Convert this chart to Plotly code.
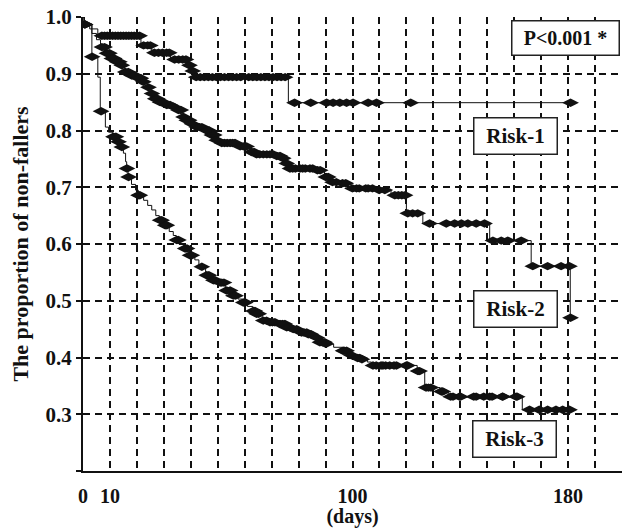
import numpy as np
import plotly.graph_objects as go

# ---------------- data ----------------
x_tick_vals = [0, 10, 100, 180]
y_tick_vals = [0.2, 0.3, 0.4, 0.5, 0.6, 0.7, 0.8, 0.9, 1.0]
y_tick_text = ["", "0.3", "0.4", "0.5", "0.6", "0.7", "0.8", "0.9", "1.0"]

risk1_step_days = [0, 0.3, 2.5, 5.5, 21.5, 25.5, 32.5, 38.8, 40.2, 41.0, 76.2]
risk1_step_surv = [1.0, 0.987, 0.979, 0.967, 0.950, 0.937, 0.925, 0.915, 0.905, 0.894, 0.849]
risk1_end_day = 181.0
risk1_censor_days = [0.6, 7, 8, 9, 10, 11, 12, 13, 14, 15, 16, 17, 18, 19, 20, 21,
                     22.5, 24, 25, 26.5, 28, 29.5, 31, 32, 34, 35.5, 37, 38.2, 39.5,
                     40.7, 42, 43.5, 45, 46.5, 48, 49.5, 51, 52.5, 54, 55.5, 57, 58.5,
                     61.5, 63, 64.5, 66, 67.5, 69, 70.5, 72, 73.5, 75, 78.5, 84.5,
                     90.4, 92.8, 95.3, 97.8, 100.2, 105.8, 108.9, 121.6, 180.9]

risk2_step_days = [0, 0.5, 3.3, 5.0, 6.5, 8.5, 10.3, 12.2, 14.0, 15.3, 17.5, 20.0, 22.0,
                   23.8, 25.2, 26.5, 28.2, 30.5, 33.0, 35.0, 36.8, 38.2, 40.0, 41.8,
                   45.5, 47.3, 49.2, 51.0, 57.8, 62.2, 64.0, 71.5, 74.0, 75.3, 76.5,
                   86.5, 89.6, 92.2, 95.8, 99.5, 109.5, 114.3, 120.0, 126.1, 150.9,
                   166.3, 180.8]
risk2_step_surv = [1.0, 0.987, 0.971, 0.960, 0.947, 0.936, 0.927, 0.921, 0.915, 0.903,
                   0.897, 0.892, 0.886, 0.876, 0.865, 0.856, 0.850, 0.845, 0.842, 0.836,
                   0.824, 0.818, 0.812, 0.806, 0.800, 0.792, 0.783, 0.778, 0.772, 0.762,
                   0.758, 0.755, 0.751, 0.742, 0.733, 0.730, 0.718, 0.709, 0.707, 0.698,
                   0.695, 0.686, 0.654, 0.636, 0.606, 0.561, 0.470]
risk2_end_day = 180.9
risk2_censor_days = [0.7, 7.0, 8.0, 8.9, 9.8, 10.7, 11.6, 12.6, 13.5, 14.4, 15.7, 16.8,
                     18.1, 19.3, 20.6, 21.5, 22.4, 24.3, 25.6, 26.8, 27.6, 28.6, 29.8,
                     31.1, 32.3, 33.6, 35.4, 36.3, 37.3, 38.5, 39.4, 40.4, 42.2, 43.2,
                     44.1, 45.9, 46.8, 47.8, 48.7, 49.6, 51.5, 52.5, 53.5, 54.6, 55.5,
                     56.4, 58.3, 59.5, 60.7, 62.6, 63.5, 64.4, 65.6, 66.9, 68.2, 69.4,
                     70.6, 71.9, 73.1, 74.3, 75.6, 76.8, 77.8, 78.8, 80.5, 81.5, 82.5,
                     84.2, 85.2, 87.0, 88.0, 90.1, 91.0, 92.6, 94.0, 96.3, 97.5, 100.0,
                     101.5, 102.5, 104.9, 105.8, 107.4, 109.9, 112.0, 115.7, 117.0,
                     118.3, 119.5, 120.5, 122.3, 124.2, 128.6, 134.8, 137.9, 140.4,
                     142.8, 145.9, 149.0, 152.1, 155.2, 157.6, 162.6, 166.9, 172.4,
                     177.4, 180.5, 180.9]

risk3_step_days = [0, 0.5, 3.3, 5.5, 6.4, 8.3, 9.5, 11.0, 12.8, 14.0, 15.0, 15.8, 16.2,
                   16.7, 18.0, 19.5, 20.5, 22.5, 24.0, 25.5, 27.0, 28.3, 30.3, 32.0,
                   33.5, 34.6, 36.0, 37.5, 39.5, 41.5, 43.0, 45.5, 48.0, 50.5, 52.8,
                   55.5, 57.5, 59.2, 61.0, 63.0, 64.2, 66.5, 69.0, 72.8, 75.3, 78.0,
                   80.8, 83.2, 86.0, 87.8, 89.8, 93.0, 96.3, 99.3, 101.5, 103.5, 105.5,
                   107.0, 124.0, 126.8, 132.5, 135.5, 163.0]
risk3_step_surv = [1.0, 0.987, 0.930, 0.894, 0.834, 0.806, 0.797, 0.789, 0.780, 0.771,
                   0.760, 0.745, 0.733, 0.718, 0.705, 0.695, 0.686, 0.677, 0.668, 0.660,
                   0.650, 0.642, 0.633, 0.622, 0.615, 0.607, 0.600, 0.592, 0.580, 0.572,
                   0.560, 0.545, 0.536, 0.532, 0.518, 0.509, 0.503, 0.497, 0.490, 0.482,
                   0.477, 0.465, 0.462, 0.459, 0.453, 0.450, 0.444, 0.441, 0.435, 0.427,
                   0.424, 0.418, 0.412, 0.404, 0.399, 0.397, 0.392, 0.386, 0.376, 0.347,
                   0.340, 0.331, 0.308]
risk3_end_day = 181.0
risk3_censor_days = [0.8, 3.4, 6.7, 11.3, 12.2, 13.2, 14.4, 16.3, 16.9, 20.6, 21.1, 28.6,
                     29.2, 30.5, 31.1, 34.8, 35.4, 37.9, 38.6, 39.7, 40.4, 44.1, 45.9,
                     46.7, 48.4, 49.0, 50.9, 51.5, 52.3, 53.3, 54.6, 55.8, 56.6, 59.5,
                     60.2, 63.2, 63.8, 64.4, 65.2, 66.9, 68.1, 69.4, 70.3, 71.2, 73.1,
                     74.0, 74.9, 75.6, 76.8, 78.0, 79.3, 81.1, 82.0, 83.0, 83.6, 84.6,
                     86.8, 87.9, 88.8, 89.7, 90.1, 96.5, 96.9, 97.8, 99.6, 101.9, 102.7,
                     103.5, 107.6, 108.8, 110.6, 111.3, 112.3, 113.8, 115.4, 116.3, 120.0,
                     120.4, 124.3, 124.9, 127.3, 128.2, 129.1, 133.0, 133.5, 136.4, 137.3,
                     139.7, 140.1, 145.0, 145.9, 148.7, 150.9, 151.8, 155.6, 155.8, 160.7,
                     161.1, 165.7, 169.3, 172.4, 175.5, 178.0, 180.5]

curve_labels = ["Risk-1", "Risk-2", "Risk-3"]
label_pos_day = [160.3, 160.5, 160.2]
label_pos_surv = [0.791, 0.486, 0.256]
p_text = "P<0.001 *"
p_pos = (179.1, 0.963)

# ---------------- figure ----------------
INK = "#111111"
FONT = "Liberation Serif, Times New Roman, serif"

fig = go.Figure()

def surv_at(step_days, step_surv, t):
    idx = np.searchsorted(np.array(step_days), np.array(t), side="right") - 1
    return np.array(step_surv)[idx]

curves = [
    (risk1_step_days, risk1_step_surv, risk1_end_day, risk1_censor_days),
    (risk2_step_days, risk2_step_surv, risk2_end_day, risk2_censor_days),
    (risk3_step_days, risk3_step_surv, risk3_end_day, risk3_censor_days),
]

for name, (sd, ss, end, cd) in zip(curve_labels, curves):
    fig.add_trace(go.Scatter(
        x=list(sd) + [end], y=list(ss) + [ss[-1]],
        mode="lines", line=dict(color=INK, width=1, shape="hv"),
        showlegend=False, hoverinfo="skip", name=name))
    fig.add_trace(go.Scatter(
        x=cd, y=surv_at(sd, ss, cd),
        mode="markers",
        marker=dict(symbol="diamond-wide", size=12, color=INK, line=dict(width=0)),
        showlegend=False, name=name + " censored"))

for lab, xd, yd in zip(curve_labels, label_pos_day, label_pos_surv):
    fig.add_annotation(x=xd, y=yd, xref="x", yref="y", text="<b>%s</b>" % lab,
                       showarrow=False, font=dict(family=FONT, size=21, color=INK),
                       bgcolor="white", bordercolor="#222222", borderwidth=1.5,
                       width=80, height=33, borderpad=1)

fig.add_annotation(x=p_pos[0], y=p_pos[1], xref="x", yref="y",
                   text="<b>%s</b>" % p_text, showarrow=False,
                   font=dict(family=FONT, size=20, color=INK),
                   bgcolor="white", bordercolor="#222222", borderwidth=1.5,
                   width=104, height=31, borderpad=1)

fig.update_layout(
    width=622, height=528,
    margin=dict(l=83, r=0, t=17, b=57),
    paper_bgcolor="white", plot_bgcolor="white",
    font=dict(family=FONT, color=INK),
    xaxis=dict(
        range=[0, 200], tickvals=x_tick_vals,
        ticktext=["<b>%d</b>" % v for v in x_tick_vals],
        ticks="", ticklabelstandoff=6, automargin=False,
        tickfont=dict(family=FONT, size=20, color=INK),
        showline=True, linecolor=INK, linewidth=2,
        showgrid=True, gridcolor=INK, gridwidth=1.5, griddash="7px,5px",
        minor=dict(dtick=10, tick0=0, showgrid=True, gridcolor=INK,
                   gridwidth=1.5, griddash="7px,5px", ticks=""),
        zeroline=False,
        title=dict(text="<b>(days)</b>", font=dict(family=FONT, size=20, color=INK),
                   standoff=6),
    ),
    yaxis=dict(
        range=[0.2, 1.0], tickvals=y_tick_vals,
        ticktext=["<b>%s</b>" % t if t else "" for t in y_tick_text],
        ticks="outside", ticklen=5, tickwidth=2, tickcolor=INK,
        tickfont=dict(family=FONT, size=21, color=INK), automargin=False,
        showline=True, linecolor=INK, linewidth=2,
        showgrid=True, gridcolor=INK, gridwidth=1.5, griddash="7px,5px",
        zeroline=False,
        title=dict(text="<b>The proportion of non-fallers</b>",
                   font=dict(family=FONT, size=22, color=INK), standoff=11),
    ),
)

fig.write_html("out.html", config={"displayModeBar": False},
               post_script="document.body.style.margin='0';document.body.style.padding='0';")
